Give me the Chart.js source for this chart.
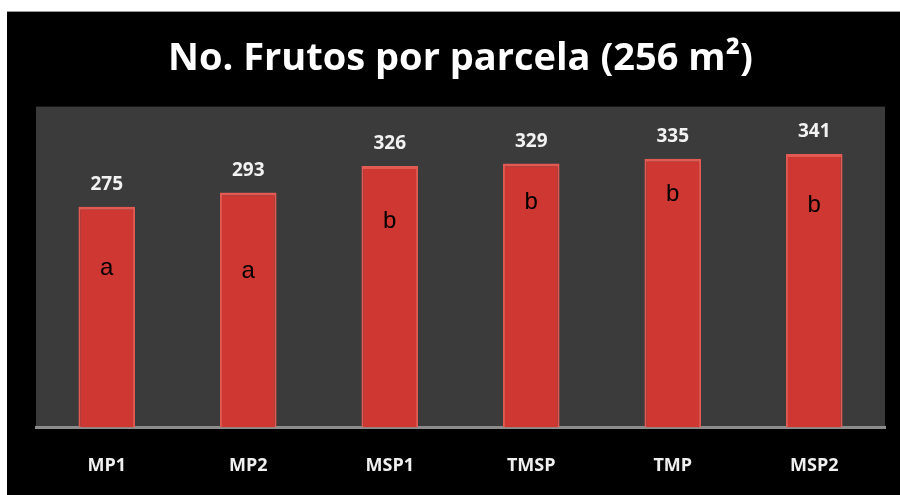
<!DOCTYPE html>
<html>
<head>
<meta charset="utf-8">
<script src="https://cdn.jsdelivr.net/npm/chart.js@4.4.1/dist/chart.umd.min.js"></script>
<style>
  html, body { margin: 0; padding: 0; background: #ffffff; }
  #frame {
    position: absolute; left: 7px; top: 11px;
    width: 893px; height: 484px;
    background: #000000;
    border-top: 1px solid #9a9a9a;
    box-sizing: border-box;
    overflow: hidden;
  }
  #frame canvas { display: block; }
</style>
</head>
<body>
<div id="frame"><canvas id="myChart" width="893" height="493"></canvas></div>
<script>
// Datos
const categories = ["MP1", "MP2", "MSP1", "TMSP", "TMP", "MSP2"];
const frutos = [275, 293, 326, 329, 335, 341];
const letters = ["a", "a", "b", "b", "b", "b"];
// nivel (en unidades del eje) donde va cada letra dentro de la barra
const letterLevels = [198, 195, 257, 280, 290, 277];

const FONT = "'Open Sans', 'Liberation Sans', sans-serif";

// Fondo gris del área del gráfico
const plotBackground = {
    id: "plotBackground",
    beforeDraw(chart) {
        const { ctx, chartArea } = chart;
        ctx.save();
        ctx.fillStyle = "#3b3b3b";
        ctx.fillRect(chartArea.left, chartArea.top, chartArea.right - chartArea.left, chartArea.bottom - chartArea.top);
        ctx.restore();
    }
};

// Valores encima de las barras y letras de significancia dentro
const barLabels = {
    id: "barLabels",
    afterDatasetsDraw(chart) {
        const { ctx } = chart;
        const meta = chart.getDatasetMeta(0);
        const yScale = chart.scales.y;
        ctx.save();
        ctx.textAlign = "center";
        ctx.textBaseline = "middle";
        meta.data.forEach((bar, i) => {
            ctx.fillStyle = "#f2f2f2";
            ctx.font = "bold 19px " + FONT;
            ctx.fillText(frutos[i], bar.x, bar.y - 22);
            ctx.fillStyle = "#000000";
            ctx.font = "24px 'Liberation Sans', Arial, sans-serif";
            ctx.fillText(letters[i], bar.x, yScale.getPixelForValue(letterLevels[i]));
        });
        ctx.restore();
    }
};

const ctx = document.getElementById("myChart").getContext("2d");

new Chart(ctx, {
    type: "bar",
    data: {
        labels: categories,
        datasets: [{
            data: frutos,
            backgroundColor: "#cf3733",
            borderColor: "#e25a52",
            borderWidth: { top: 3, left: 2, right: 2, bottom: 0 },
            borderSkipped: false,
            barPercentage: 0.4,
            categoryPercentage: 1.0
        }]
    },
    options: {
        responsive: false,
        animation: false,
        layout: { padding: { left: 29, right: 15, top: 0, bottom: 0 } },
        plugins: {
            legend: { display: false },
            tooltip: { enabled: false },
            title: {
                display: true,
                text: "No. Frutos por parcela (256 m²)",
                color: "#ffffff",
                font: { family: FONT, size: 38, weight: "bold" },
                padding: { top: 24, bottom: 25 }
            }
        },
        scales: {
            x: {
                grid: { display: false, drawTicks: false },
                border: { display: true, color: "#8c8c8c", width: 3 },
                ticks: {
                    color: "#f0f0f0",
                    font: { family: FONT, size: 18, weight: "bold" },
                    padding: 28
                }
            },
            y: {
                display: false,
                min: 0,
                max: 400
            }
        }
    },
    plugins: [plotBackground, barLabels]
});
</script>
</body>
</html>
